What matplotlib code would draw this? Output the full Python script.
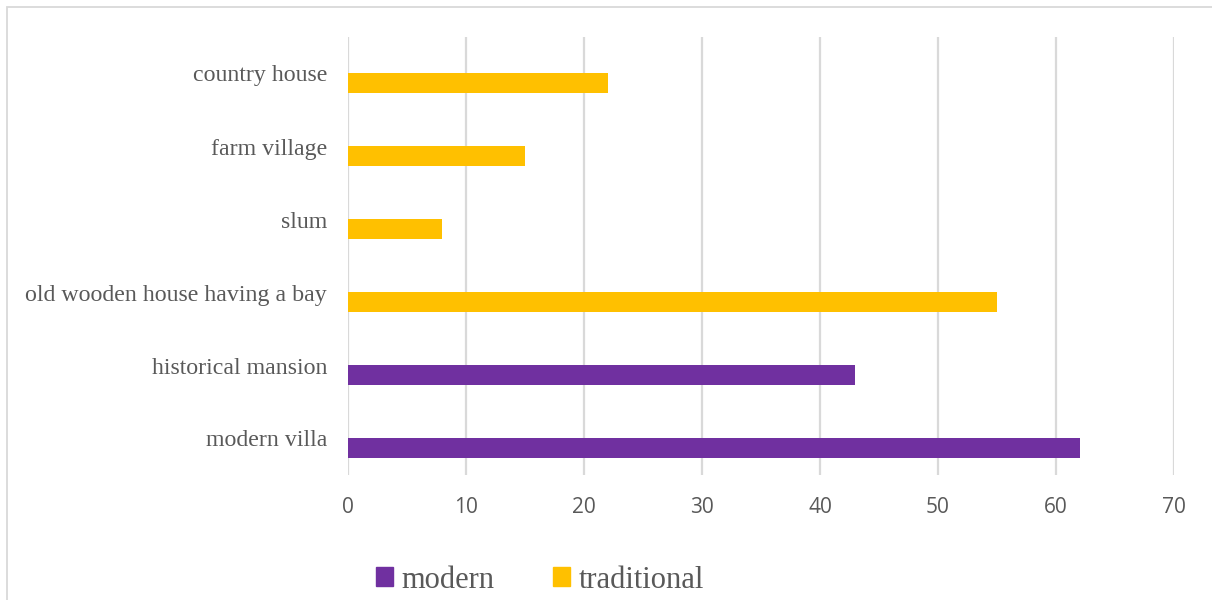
import matplotlib.pyplot as plt
from matplotlib.patches import Rectangle, Patch

# categories bottom -> top
categories = ['modern villa', 'historical mansion', 'old wooden house having a bay',
              'slum', 'farm village', 'country house']
values = [62, 43, 55, 8, 15, 22]
groups = ['modern', 'modern', 'traditional', 'traditional', 'traditional', 'traditional']
series_colors = {'modern': '#7030A0', 'traditional': '#FFC000'}
xticks = [0, 10, 20, 30, 40, 50, 60, 70]

text_col = '#595959'
grid_col = '#D9D9D9'

fig = plt.figure(figsize=(12.12, 6.0), dpi=100)
ax = fig.add_axes([348 / 1212, 1 - 475 / 600, (1174 - 348) / 1212, (475 - 37) / 600])

ypos = list(range(len(categories)))
bar_y = [y - 0.13 for y in ypos]
ax.barh(bar_y, values, height=0.27, color=[series_colors[g] for g in groups], zorder=3)

ax.set_xlim(0, 70)
ax.set_ylim(-0.5, len(categories) - 0.5)
ax.set_xticks(xticks)
ax.set_yticks(ypos)
ax.set_yticklabels(categories, family='Liberation Serif', fontsize=17.2, color=text_col)
ax.set_xticklabels([str(t) for t in xticks], family='Open Sans', fontsize=15, color=text_col)
ax.tick_params(axis='y', length=0, pad=15)
ax.tick_params(axis='x', length=0, pad=16)
ax.grid(axis='x', color=grid_col, linewidth=1.6, zorder=0)
for s in ax.spines.values():
    s.set_visible(False)

handles = [Patch(color=series_colors[k], label=k) for k in ['modern', 'traditional']]
fig.legend(handles=handles, loc='center', bbox_to_anchor=(540 / 1212, 1 - 580 / 600),
           ncol=2, frameon=False, prop={'family': 'Liberation Serif', 'size': 22},
           labelcolor=text_col, handlelength=0.55, handleheight=0.55, handletextpad=0.3,
           columnspacing=1.9)

fig.patches.append(Rectangle((7 / 1212, -0.1), 1.2, 1.1 - 7 / 600, transform=fig.transFigure,
                             fill=False, edgecolor=grid_col, linewidth=1.3))

fig.savefig('out.png', dpi=100)
